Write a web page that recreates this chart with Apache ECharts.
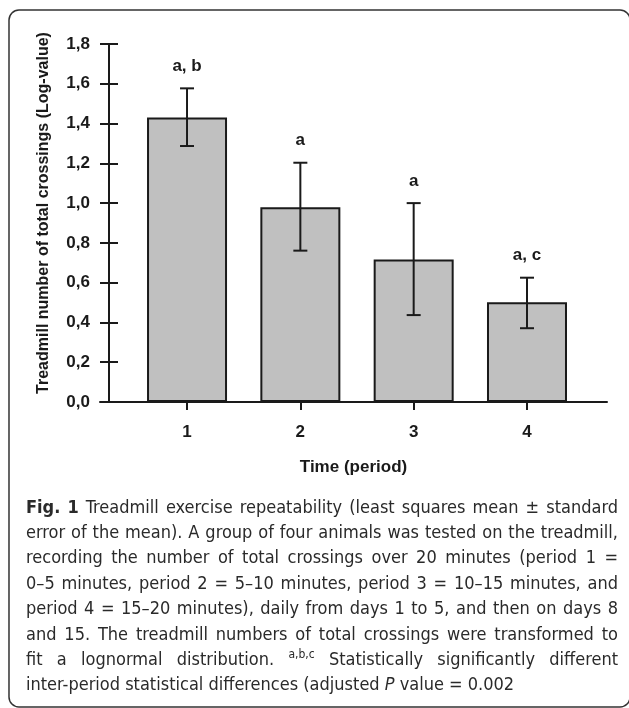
<!DOCTYPE html>
<html>
<head>
<meta charset="utf-8">
<script src="https://cdn.jsdelivr.net/npm/echarts@6/dist/echarts.min.js"></script>
<style>
html,body{margin:0;padding:0;background:#fff;}
#chart{width:629px;height:708px;}
</style>
</head>
<body>
<div id="chart"></div>
<script>
// ---- data ----
const categories = [1, 2, 3, 4];
const means = [1.431, 0.979, 0.717, 0.501];
const upper = [1.577, 1.203, 1.000, 0.625];
const lower = [1.287, 0.761, 0.437, 0.371];
const sigLabels = ['a, b', 'a', 'a', 'a, c'];
const yTitle = 'Treadmill number of total crossings (Log-value)';
const xTitle = 'Time (period)';
const captionLines = [
  '*Fig. *1 Treadmill exercise repeatability (least squares mean ± standard',
  'error of the mean). A group of four animals was tested on the treadmill,',
  'recording the number of total crossings over 20 minutes (period 1 =',
  '0–5 minutes, period 2 = 5–10 minutes, period 3 = 10–15 minutes, and',
  'period 4 = 15–20 minutes), daily from days 1 to 5, and then on days 8',
  'and 15. The treadmill numbers of total crossings were transformed to',
  'fit a lognormal distribution. ^a,b,c Statistically significantly different',
  'inter-period statistical differences (adjusted _P value = 0.002'
];

// ---- styles ----
const INK = '#1a1a1a';
const AX_FONT = '"Liberation Sans", Arial, sans-serif';
const CAP_FAMILY = '"Liberation Sans Narrow", "DejaVu Sans Condensed", "Liberation Sans", sans-serif';
const CAP_SIZE = 18;

function fmt(v) { return v.toFixed(1).replace('.', ','); }

// caption layout (justified)
const measureCtx = document.createElement('canvas').getContext('2d');
function tokFont(kind) {
  if (kind === 'bold') return 'bold ' + CAP_SIZE + 'px ' + CAP_FAMILY;
  if (kind === 'italic') return 'italic ' + CAP_SIZE + 'px ' + CAP_FAMILY;
  if (kind === 'sup') return '12px ' + CAP_FAMILY;
  return CAP_SIZE + 'px ' + CAP_FAMILY;
}
function buildCaption() {
  const left = 26, right = 618, top = 508, lh = 25.4;
  const els = [];
  captionLines.forEach((line, li) => {
    const words = line.split(' ').map(w => {
      let kind = 'normal', text = w;
      if (w[0] === '*') { kind = 'bold'; text = w.slice(1); }
      else if (w[0] === '^') { kind = 'sup'; text = w.slice(1); }
      else if (w[0] === '_') { kind = 'italic'; text = w.slice(1); }
      measureCtx.font = tokFont(kind);
      return { kind, text, w: measureCtx.measureText(text).width };
    });
    measureCtx.font = tokFont('normal');
    const spaceW = measureCtx.measureText(' ').width;
    const total = words.reduce((s, t) => s + t.w, 0);
    const last = li === captionLines.length - 1;
    const gap = last ? spaceW : (right - left - total) / (words.length - 1);
    let x = left;
    const y = top + li * lh;
    words.forEach(t => {
      els.push({
        type: 'text', x: x, y: t.kind === 'sup' ? y - 6 : y,
        style: { text: t.text, font: tokFont(t.kind), fill: '#2a2a2a', textVerticalAlign: 'middle' }
      });
      x += t.w + gap;
    });
  });
  return els;
}

const chart = echarts.init(document.getElementById('chart'), null, { renderer: 'canvas' });

const axisCommon = {
  min: 0, max: 1.8, interval: 0.2, offset: -9, position: 'left',
  splitLine: { show: false }
};

const option = {
  backgroundColor: '#fff',
  animation: false,
  grid: { left: 100, right: 22, top: 44, bottom: 306 },
  xAxis: {
    type: 'value', min: 0.232, max: 4.706,
    axisLine: { show: true, onZero: false, lineStyle: { color: INK, width: 2 } },
    axisTick: { show: true, customValues: categories, length: 8, lineStyle: { color: INK, width: 2 } },
    axisLabel: { customValues: categories, margin: 22, color: INK, fontWeight: 'bold', fontSize: 17, fontFamily: AX_FONT },
    splitLine: { show: false },
    name: xTitle, nameLocation: 'middle', nameGap: 57,
    nameTextStyle: { color: INK, fontWeight: 'bold', fontSize: 17, fontFamily: AX_FONT }
  },
  yAxis: [
    Object.assign({}, axisCommon, {
      type: 'value',
      axisLine: { show: true, onZero: false, lineStyle: { color: INK, width: 2 } },
      axisTick: { show: true, length: 9, lineStyle: { color: INK, width: 2 } },
      axisLabel: { margin: 19, color: INK, fontWeight: 'bold', fontSize: 17, fontFamily: AX_FONT, formatter: fmt },
      name: yTitle, nameLocation: 'middle', nameGap: 57,
      nameTextStyle: { color: INK, fontWeight: 'bold', fontSize: 16, fontFamily: AX_FONT, padding: [0, 0, 0, 20] }
    }),
    Object.assign({}, axisCommon, {
      type: 'value',
      axisLine: { show: false, onZero: false },
      axisTick: { show: true, inside: true, length: 9, lineStyle: { color: INK, width: 2 } },
      axisLabel: { show: false }
    })
  ],
  series: [
    {
      type: 'bar', barWidth: 80,
      data: categories.map((c, i) => [c, means[i]]),
      itemStyle: { color: '#c0c0c0', borderColor: INK, borderWidth: 2 },
      silent: true
    },
    {
      type: 'custom',
      data: categories.map((c, i) => [c, lower[i], upper[i]]),
      encode: { x: 0, y: [1, 2] },
      renderItem: function (params, api) {
        const x = api.value(0);
        const t = api.coord([x, api.value(2)]);
        const b = api.coord([x, api.value(1)]);
        const st = { stroke: INK, lineWidth: 2 };
        const hw = 7;
        return {
          type: 'group',
          children: [
            { type: 'line', shape: { x1: t[0], y1: t[1], x2: b[0], y2: b[1] }, style: st },
            { type: 'line', shape: { x1: t[0] - hw, y1: t[1], x2: t[0] + hw, y2: t[1] }, style: st },
            { type: 'line', shape: { x1: b[0] - hw, y1: b[1], x2: b[0] + hw, y2: b[1] }, style: st }
          ]
        };
      },
      z: 5
    },
    {
      type: 'custom',
      data: categories.map((c, i) => [c, upper[i]]),
      encode: { x: 0, y: 1 },
      renderItem: function (params, api) {
        const p = api.coord([api.value(0), api.value(1)]);
        return {
          type: 'text', x: p[0], y: p[1] - 22,
          style: {
            text: sigLabels[params.dataIndex], fill: INK,
            font: 'bold 17px ' + AX_FONT, textAlign: 'center', textVerticalAlign: 'middle'
          }
        };
      },
      z: 6
    }
  ],
  graphic: [
    {
      type: 'rect', shape: { x: 9, y: 10, width: 621, height: 697, r: 10 },
      style: { fill: 'none', stroke: '#333', lineWidth: 1.5 }, z: 0
    }
  ].concat(buildCaption())
};

chart.setOption(option);
</script>
</body>
</html>
